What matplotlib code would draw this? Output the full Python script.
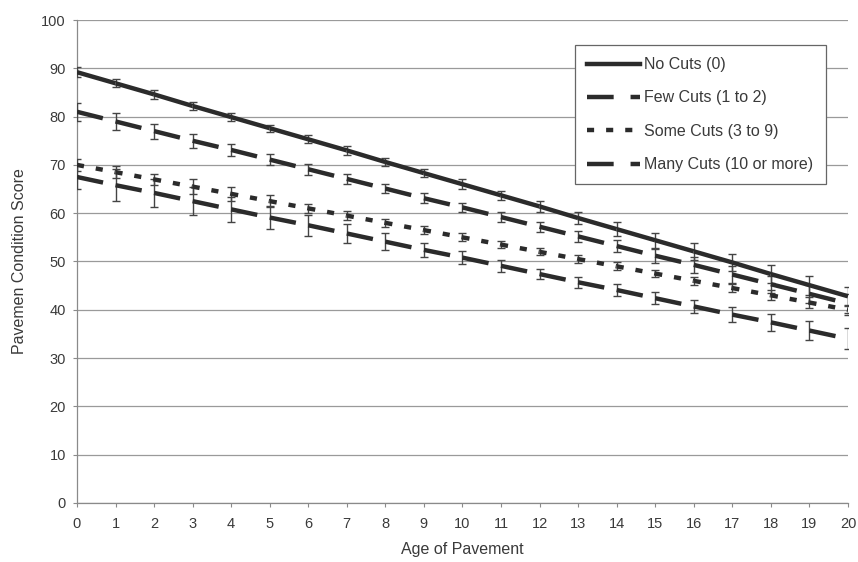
import numpy as np
import matplotlib
matplotlib.use("Agg")
import matplotlib.pyplot as plt
from matplotlib.lines import Line2D

plt.rcParams["font.family"] = ["Liberation Sans", "DejaVu Sans"]

# --- data ---
age = list(range(21))
no_cuts = [89.2, 86.9, 84.6, 82.2, 79.9, 77.6, 75.3, 73.0, 70.6, 68.3, 66.0,
           63.7, 61.4, 59.0, 56.7, 54.4, 52.1, 49.8, 47.4, 45.1, 42.8]
few_cuts = [81.0, 79.0, 77.0, 75.0, 73.1, 71.1, 69.1, 67.1, 65.1, 63.1, 61.2,
            59.2, 57.2, 55.2, 53.2, 51.2, 49.3, 47.3, 45.3, 43.3, 41.3]
some_cuts = [70.0, 68.5, 67.0, 65.5, 64.0, 62.5, 61.0, 59.5, 58.0, 56.5, 55.0,
             53.5, 52.0, 50.5, 49.0, 47.5, 46.0, 44.5, 43.0, 41.5, 40.0]
many_cuts = [67.5, 65.8, 64.2, 62.5, 60.8, 59.1, 57.5, 55.8, 54.1, 52.4, 50.8,
             49.1, 47.4, 45.7, 44.1, 42.4, 40.7, 39.0, 37.4, 35.7, 34.0]

no_err = [1.0, 0.85, 0.9, 0.8, 0.9, 0.75, 0.85, 0.9, 0.8, 0.9, 1.0,
          1.0, 1.1, 1.3, 1.5, 1.6, 1.7, 1.8, 1.9, 2.0, 2.0]
few_err = [1.9, 1.7, 1.55, 1.4, 1.3, 1.2, 1.1, 1.0, 1.0, 1.0, 1.0,
           1.0, 1.0, 1.1, 1.3, 1.45, 1.6, 1.7, 1.8, 1.9, 2.0]
some_err = [1.3, 1.2, 1.2, 1.5, 1.5, 1.3, 1.0, 1.0, 0.8, 0.8, 0.85,
            0.8, 0.7, 0.8, 0.8, 0.75, 0.8, 0.9, 1.0, 1.1, 1.0]
many_err = [2.5, 3.3, 2.9, 2.9, 2.6, 2.4, 2.2, 1.9, 1.7, 1.5, 1.3,
            1.2, 1.1, 1.1, 1.2, 1.25, 1.35, 1.6, 1.8, 2.0, 2.2]

labels = ["No Cuts (0)", "Few Cuts (1 to 2)", "Some Cuts (3 to 9)", "Many Cuts (10 or more)"]

series = [
    (no_cuts, no_err, None),
    (few_cuts, few_err, (6.0, 3.8)),
    (some_cuts, some_err, (1.6, 2.7)),
    (many_cuts, many_err, (6.0, 3.8)),
]

line_col = "#2b2b2b"
text_col = "#3a3a3a"
lw = 3.2

fig = plt.figure(figsize=(8.58, 5.62), dpi=100)
ax = fig.add_subplot(111)
fig.subplots_adjust(left=0.0897, right=0.9883, top=0.9644, bottom=0.105)

handles = []
for (vals, err, dash), lab in zip(series, labels):
    ax.errorbar(age, vals, yerr=err, fmt="none", ecolor="#444444",
                elinewidth=1.0, capsize=3, capthick=1.0, zorder=3)
    # excel restarts the dash pattern on every segment
    for i in range(len(age) - 1):
        ln, = ax.plot(age[i:i + 2], vals[i:i + 2], color=line_col, lw=lw,
                      solid_capstyle="butt", dash_capstyle="butt", zorder=4)
        if dash is not None:
            ln.set_dashes(dash)
    h = Line2D([0], [0], color=line_col, lw=lw, dash_capstyle="butt")
    if dash is not None:
        h.set_dashes(dash)
    handles.append(h)

ax.set_xlim(0, 20)
ax.set_ylim(0, 100)
ax.set_xticks(age)
ax.set_yticks(np.arange(0, 101, 10))
ax.yaxis.grid(True, color="#9a9a9a", lw=0.9)
ax.set_axisbelow(True)

for s in ["top", "right"]:
    ax.spines[s].set_visible(False)
for s in ["left", "bottom"]:
    ax.spines[s].set_color("#8a8a8a")
    ax.spines[s].set_linewidth(0.9)

ax.tick_params(axis="both", colors="#8a8a8a", labelcolor=text_col,
               labelsize=10.5, length=3, width=0.8)
ax.tick_params(axis="y", pad=5)
ax.tick_params(axis="x", pad=7)

ax.set_xlabel("Age of Pavement", fontsize=11.5, color=text_col, labelpad=8)
ax.set_ylabel("Pavemen Condition Score", fontsize=11.5, color=text_col, labelpad=10)

leg = ax.legend(handles, labels, loc="upper right", bbox_to_anchor=(0.971, 0.948),
                borderaxespad=0, fontsize=11.5, handlelength=3.3, handletextpad=0.3,
                labelspacing=1.15, borderpad=0.75, fancybox=False, framealpha=1)
leg.get_frame().set_edgecolor("#666666")
leg.get_frame().set_linewidth(0.9)
for t in leg.get_texts():
    t.set_color(text_col)

fig.savefig("out.png", dpi=100, facecolor="white")
